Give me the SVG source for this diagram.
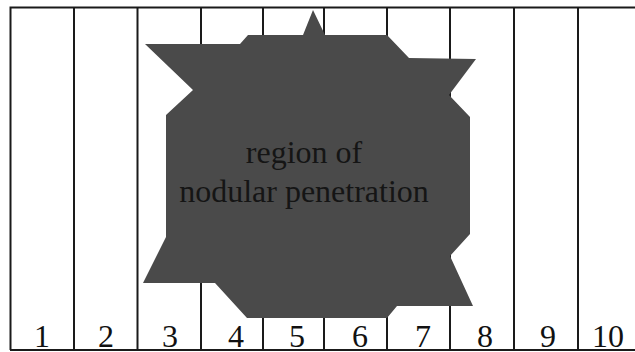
<svg xmlns="http://www.w3.org/2000/svg" width="635" height="352" viewBox="0 0 635 352">
<style>
.ln{stroke:#1a1a1a;stroke-width:2;fill:none}
.num{font-family:"Liberation Serif","Times New Roman",serif;font-size:32px;fill:#111;text-anchor:middle}
.lbl{font-family:"Liberation Serif","Times New Roman",serif;font-size:32px;fill:#151515;text-anchor:middle}
</style>
<rect width="635" height="352" fill="#fff"/>
<g id="grid">
<path class="ln" d="M10.5 350 V7.5 H640 M10 350 H640"/>
<path class="ln" d="M74 7.5V350 M137.5 7.5V350 M201 7.5V350 M263 7.5V350 M324 7.5V350 M387 7.5V350 M450 7.5V350 M514 7.5V350 M578 7.5V350"/>
</g>
<g id="region">
<polygon fill="#4a4a4a" points="313,10 325,35 387,35 409,58 476,59 449,95 470,117 470,234 450,256 473,306 397,306 387,318 247,318 215,283 143,283 166,237 166,115 193,90 145,44 240,44 248,35 303,35"/>
<text class="lbl" x="304" y="163">region of</text>
<text class="lbl" x="304" y="202">nodular penetration</text>
</g>
<g id="labels">
<text class="num" x="42" y="347">1</text>
<text class="num" x="106" y="347">2</text>
<text class="num" x="170" y="347">3</text>
<text class="num" x="236" y="347">4</text>
<text class="num" x="297" y="347">5</text>
<text class="num" x="360" y="347">6</text>
<text class="num" x="423" y="347">7</text>
<text class="num" x="485" y="347">8</text>
<text class="num" x="548" y="347">9</text>
<text class="num" x="608" y="347">10</text>
</g>
</svg>
